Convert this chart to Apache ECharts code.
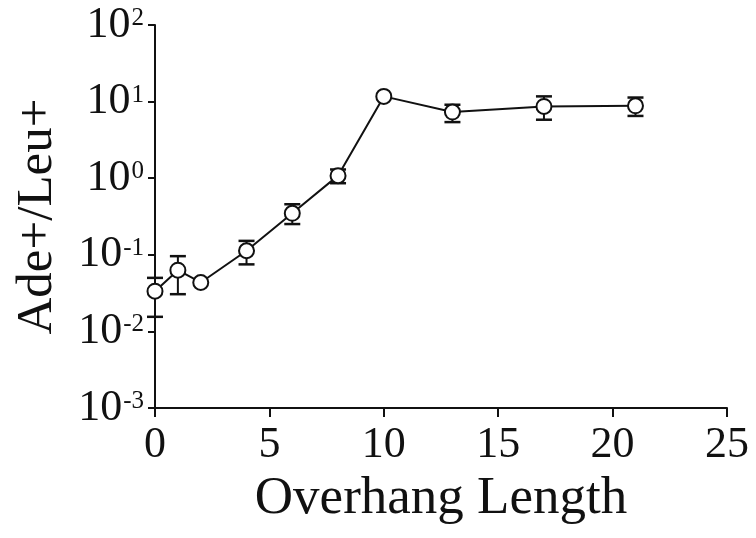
<!DOCTYPE html>
<html>
<head>
<meta charset="utf-8">
<script src="https://cdn.jsdelivr.net/npm/echarts@6/dist/echarts.min.js"></script>
<style>
html,body{margin:0;padding:0;background:#fff;}
#chart{width:756px;height:538px;}
</style>
</head>
<body>
<div id="chart"></div>
<script>
var overhang = [0, 1, 2, 4, 6, 8, 10, 13, 17, 21];
var ratio    = [0.0335, 0.063, 0.0435, 0.113, 0.348, 1.08, 11.7, 7.3, 8.65, 8.8];
var errLow   = [0.0155, 0.0306, null, 0.075, 0.252, 0.86, null, 5.4, 5.8, 6.5];
var errHigh  = [0.05, 0.096, null, 0.152, 0.457, 1.3, null, 9.1, 11.7, 11.3];
var xTicks = [0, 5, 10, 15, 20, 25];
var yTicks = [0.001, 0.01, 0.1, 1, 10, 100];

var FONT = 'Liberation Serif';
var lineData = overhang.map(function (x, i) { return [x, ratio[i]]; });
var errData = [];
overhang.forEach(function (x, i) {
  if (errLow[i] != null && errHigh[i] != null) errData.push([x, errLow[i], errHigh[i]]);
});

var chart = echarts.init(document.getElementById('chart'));
chart.setOption({
  backgroundColor: '#fff',
  animation: false,
  grid: {left: 155, right: 29, top: 25, bottom: 130, containLabel: false},
  xAxis: {
    type: 'value', min: 0, max: 25, interval: 5,
    name: 'Overhang Length', nameLocation: 'middle', nameGap: 65,
    nameTextStyle: {fontFamily: FONT, fontSize: 53, color: '#111'},
    axisLine: {show: true, onZero: false, lineStyle: {color: '#111', width: 2}},
    axisTick: {show: true, length: 9, lineStyle: {color: '#111', width: 2}},
    axisLabel: {fontFamily: FONT, fontSize: 44, color: '#111', margin: 15,
      formatter: function (v) { return xTicks.indexOf(v) >= 0 ? String(v) : ''; }},
    splitLine: {show: false}
  },
  yAxis: {
    type: 'log', logBase: 10, min: 0.001, max: 100,
    name: 'Ade+/Leu+', nameLocation: 'middle', nameGap: 92, nameRotate: 90,
    nameTextStyle: {fontFamily: FONT, fontSize: 51, color: '#111'},
    axisLine: {show: true, lineStyle: {color: '#111', width: 2}},
    axisTick: {show: true, length: 7, lineStyle: {color: '#111', width: 2}},
    minorTick: {show: false},
    splitLine: {show: false},
    axisLabel: {
      margin: 11,
      formatter: function (v) {
        var e = Math.round(Math.log10(v));
        return '{b|10}{s|' + e + '}';
      },
      rich: {
        b: {fontFamily: FONT, fontSize: 44, color: '#111', lineHeight: 44},
        s: {fontFamily: FONT, fontSize: 25, color: '#111', verticalAlign: 'top', lineHeight: 44, padding: [3, 0, 0, 1]}
      }
    }
  },
  series: [
    {
      type: 'custom',
      data: errData,
      z: 2,
      renderItem: function (params, api) {
        var x = api.value(0);
        var lo = api.coord([x, api.value(1)]);
        var hi = api.coord([x, api.value(2)]);
        var w = 8;
        var st = {stroke: '#111', lineWidth: 2};
        var cap = {stroke: '#111', lineWidth: 2.5};
        return {
          type: 'group',
          children: [
            {type: 'line', shape: {x1: lo[0], y1: lo[1], x2: hi[0], y2: hi[1]}, style: st},
            {type: 'line', shape: {x1: lo[0] - w, y1: lo[1], x2: lo[0] + w, y2: lo[1]}, style: cap},
            {type: 'line', shape: {x1: hi[0] - w, y1: hi[1], x2: hi[0] + w, y2: hi[1]}, style: cap}
          ]
        };
      }
    },
    {
      type: 'line',
      data: lineData,
      z: 3,
      symbol: 'circle',
      symbolSize: 15,
      lineStyle: {color: '#111', width: 2},
      itemStyle: {color: '#fff', borderColor: '#111', borderWidth: 2},
      showAllSymbol: true
    }
  ]
});
</script>
</body>
</html>
